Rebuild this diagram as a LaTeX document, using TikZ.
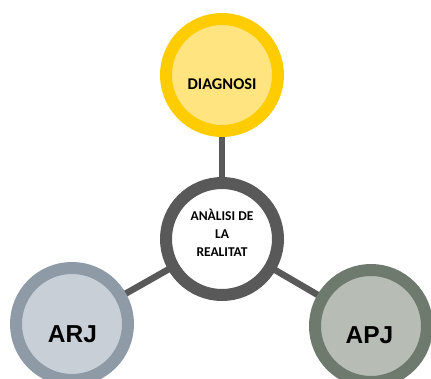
\documentclass[tikz,border=0pt]{standalone}
\usepackage{fontspec}
\setmainfont{Carlito}
\newfontfamily\arialb{Liberation Sans}
\usetikzlibrary{backgrounds}
\definecolor{ringY}{HTML}{FFCC00}
\definecolor{fillY}{HTML}{FFE480}
\definecolor{ringC}{HTML}{595959}
\definecolor{ringB}{HTML}{8E9AA5}
\definecolor{fillB}{HTML}{C9CFD6}
\definecolor{ringG}{HTML}{6F7A6F}
\definecolor{fillG}{HTML}{B7BCB4}
\tikzset{
  bubble/.style={circle, line width=12pt, minimum size=112pt, inner sep=0pt},
  link/.style={draw=ringC, line width=6.5pt},
  small/.style={align=center, font=\bfseries\fontsize{13.5}{17.7}\selectfont},
  mid/.style={font=\bfseries\fontsize{16.4}{20}\selectfont},
  big/.style={font=\arialb\bfseries\fontsize{24.5}{28}\selectfont}
}
\begin{document}
\begin{tikzpicture}[x=1pt, y=-1pt]
\useasboundingbox (0,0) rectangle (431,378);
\node[bubble, draw=ringC, fill=white] (c) at (222,239) {};
\node[bubble, draw=ringY, fill=fillY] (d) at (222,75) {};
\node[bubble, draw=ringB, fill=fillB] (a) at (72,324) {};
\node[bubble, draw=ringG, fill=fillG] (p) at (371,326) {};
\node[small] (ct) at (222,233) {ANÀLISI DE\\LA\\REALITAT};
\node[mid] (dt) at (222,84) {DIAGNOSI};
\node[big] (at) at (72.5,334) {ARJ};
\node[big] (pt) at (369.5,335) {APJ};
\begin{scope}[on background layer]
\draw[link] (c.center) -- (d.center);
\draw[link] (c.center) -- (a.center);
\draw[link] (c.center) -- (p.center);
\end{scope}
\end{tikzpicture}
\end{document}
